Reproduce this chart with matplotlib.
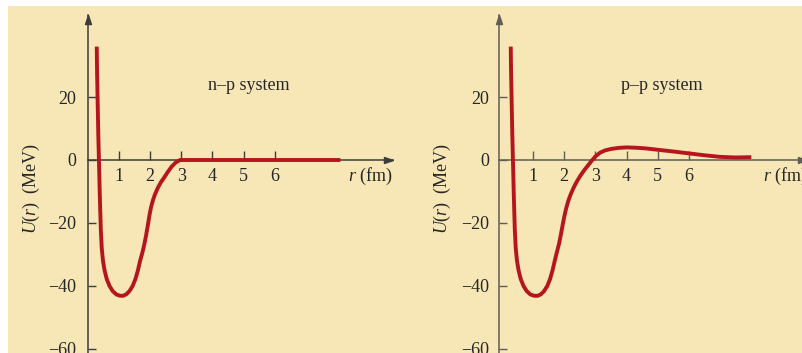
import matplotlib
matplotlib.use("Agg")
import matplotlib.pyplot as plt
from matplotlib.patches import Rectangle

plt.rcParams['font.family'] = ['Liberation Serif', 'DejaVu Serif']
plt.rcParams['mathtext.fontset'] = 'custom'
plt.rcParams['mathtext.rm'] = 'Liberation Serif'
plt.rcParams['mathtext.it'] = 'Liberation Serif:italic'

# ---- data ----
np_r = [0.29, 0.30, 0.32, 0.34, 0.36, 0.39, 0.42, 0.45, 0.49, 0.54, 0.61, 0.70,
        0.80, 0.92, 1.04, 1.14, 1.24, 1.34, 1.44, 1.53, 1.61, 1.68, 1.75, 1.81,
        1.87, 1.94, 1.98, 2.03, 2.09, 2.16, 2.25, 2.35, 2.45, 2.56, 2.69, 2.82,
        2.96, 8.10]
np_U = [36, 28, 18, 8, 0, -12, -22, -28, -32, -35, -37.8, -40,
        -41.6, -42.7, -43.1, -43.1, -42.6, -41.6, -40, -37.8, -35, -32, -29.5, -27,
        -24, -20, -17.5, -15, -12.8, -10.8, -8.8, -7, -5.6, -3.9, -2.1, -0.8,
        0, 0]

pp_r = [0.29, 0.30, 0.32, 0.34, 0.36, 0.39, 0.42, 0.45, 0.49, 0.54, 0.61, 0.70,
        0.80, 0.92, 1.04, 1.16, 1.26, 1.36, 1.46, 1.55, 1.63, 1.70, 1.77, 1.84,
        1.90, 1.96, 2.01, 2.07, 2.14, 2.22, 2.31, 2.41, 2.52, 2.64, 2.76, 2.88,
        3.00, 3.15, 3.30, 3.50, 3.75, 4.00, 4.30, 4.60, 5.00, 5.50, 6.00, 6.50,
        7.00, 7.50, 8.00]
pp_U = [36, 28, 18, 8, 0, -12, -22, -28, -32, -35, -37.8, -40,
        -41.6, -42.7, -43.1, -43.1, -42.6, -41.6, -40, -37.8, -35, -32, -29.2, -26.5,
        -23.5, -20.3, -17.8, -15.2, -12.8, -10.7, -8.7, -6.8, -5, -3.3, -1.8, -0.3,
        1.1, 2.3, 3.0, 3.5, 3.85, 4.0, 3.9, 3.7, 3.25, 2.7, 2.1, 1.5,
        1.0, 0.8, 0.9]

x_ticks = [1, 2, 3, 4, 5, 6]
x_labels = ['1', '2', '3', '4', '5', '6']
y_ticks = [20, 0, -20, -40, -60]
y_labels = ['20', '0', '\u221220', '\u221240', '\u221260']
titles = ['n\u2013p system', 'p\u2013p system']

# ---- figure ----
W, H = 803, 353
fig = plt.figure(figsize=(W / 100, H / 100), dpi=100, facecolor='white')
bg = '#F7E6B6'
fig.patches.append(Rectangle((8 / W, 0), 1, 1 - 6 / H, transform=fig.transFigure,
                             facecolor=bg, edgecolor='none', zorder=-10))

curve_color = '#B5161E'
text_color = '#262626'

panels = [
    dict(r=np_r, U=np_U, x0pix=87.7, xlim=(-0.1, 9.8), yspine=0.0,
         axcol='#3c3c38', title=titles[0], tpos=(5.16, 23.5), rlab=8.34, ylab_x=31, ypad=8.5),
    dict(r=pp_r, U=pp_U, x0pix=501.7, xlim=(-0.2, 9.8), yspine=-0.08,
         axcol='#5e5e56', title=titles[1], tpos=(5.13, 23.5), rlab=8.37, ylab_x=442, ypad=7),
]

sx = 31.2   # px per fm
sy = 3.15   # px per MeV
y0pix = 160.0
ylim = (-62, 46)

up_marker = [(0, 0), (-0.33, -1), (0.33, -1), (0, 0)]
right_marker = [(0, 0), (-1, 0.33), (-1, -0.33), (0, 0)]

for p in panels:
    lpx = p['x0pix'] + sx * p['xlim'][0]
    rpx = p['x0pix'] + sx * p['xlim'][1]
    tpx = y0pix - sy * ylim[1]
    bpx = y0pix - sy * ylim[0]
    ax = fig.add_axes([lpx / W, (H - bpx) / H, (rpx - lpx) / W, (bpx - tpx) / H])
    ax.set_xlim(*p['xlim'])
    ax.set_ylim(*ylim)
    ax.patch.set_visible(False)
    for s in ['top', 'right']:
        ax.spines[s].set_visible(False)
    ax.spines['left'].set_position(('data', p['yspine']))
    ax.spines['bottom'].set_position(('data', 0))
    ax.spines['bottom'].set_bounds(p['yspine'], p['xlim'][1])
    for s in ['left', 'bottom']:
        ax.spines[s].set_color(p['axcol'])
        ax.spines[s].set_linewidth(1.1)
    ax.set_xticks(x_ticks)
    ax.set_xticklabels(x_labels)
    ax.set_yticks(y_ticks)
    ax.set_yticklabels(y_labels)
    ax.tick_params(axis='x', direction='in', length=6.5, width=1.0, color=p['axcol'],
                   labelsize=13, labelcolor=text_color, pad=6)
    ax.tick_params(axis='y', direction='in', length=6, width=1.0, color=p['axcol'],
                   labelsize=13, labelcolor=text_color, pad=p['ypad'])
    # arrowheads
    ax.plot([p['yspine']], [ylim[1]], marker=up_marker, markersize=13,
            color=p['axcol'], clip_on=False, zorder=5)
    ax.plot([p['xlim'][1]], [0], marker=right_marker, markersize=13,
            color=p['axcol'], clip_on=False, zorder=5)
    ax.plot(p['r'], p['U'], color=curve_color, lw=2.8, solid_joinstyle='round',
            solid_capstyle='butt', zorder=4)
    ax.text(p['tpos'][0], p['tpos'][1], p['title'], fontsize=13, color=text_color,
            ha='center', va='center')
    ax.text(p['rlab'], -5.1, '$r$ (fm)', fontsize=13, color=text_color,
            ha='left', va='center', clip_on=False)
    fig.text(p['ylab_x'] / W, 1 - 188 / H, '$U(r)$  (MeV)', fontsize=13,
             color=text_color, rotation=90, ha='center', va='center')

fig.savefig('out.png', dpi=100, facecolor=fig.get_facecolor())
